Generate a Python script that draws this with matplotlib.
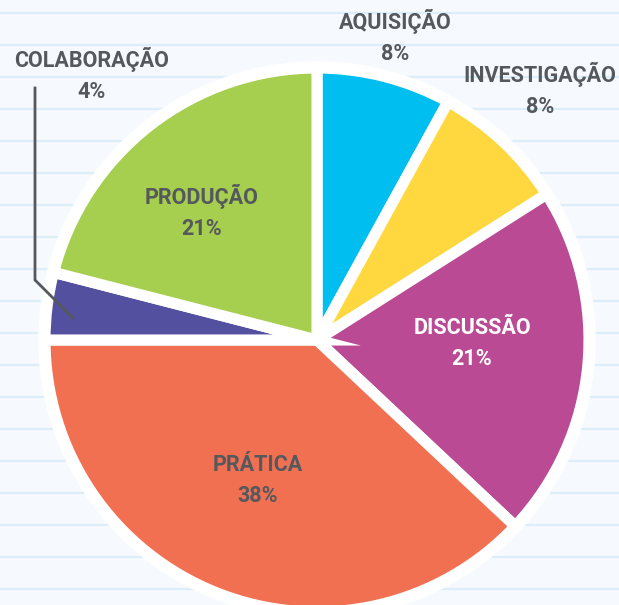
import matplotlib.pyplot as plt
from matplotlib.patches import Circle

# slice names, shares (%) and fills, clockwise from 12 o'clock
labels = ["AQUISIÇÃO", "INVESTIGAÇÃO", "DISCUSSÃO", "PRÁTICA", "COLABORAÇÃO", "PRODUÇÃO"]
shares = [8, 8, 21, 38, 4, 21]
colors = ["#00bef0", "#ffd73f", "#b94a93", "#f27052", "#5450a0", "#a6ce4f"]
label_colors = ["#55585d", "#55585d", "#ffffff", "#55585d", "#55585d", "#55585d"]

W, H = 619, 605
CX, CY, R = 317, H - 340, 272

# (x centre, baseline of the name) in pixels from the top-left
label_pos = [(395, 29), (540, 82), (472, 334), (258, 471), (92, 67), (202, 204)]

plt.rcParams['font.family'] = ['Roboto', 'DejaVu Sans']
fig = plt.figure(figsize=(W / 100, H / 100), dpi=100)
ax = fig.add_axes([0, 0, 1, 1])
fig.patch.set_facecolor('#f6fafe')

# ruled-paper background
for y in range(13, H, 32):
    ax.axhline(H - y, color='#ddeef8', lw=1.6, zorder=0)

ax.add_patch(Circle((CX, CY), R + 6, color='white', zorder=1))

wedges, _ = ax.pie(shares, colors=colors, startangle=90, counterclock=False,
                   center=(CX, CY), radius=R, frame=True,
                   wedgeprops=dict(edgecolor='white', linewidth=8))
for w in wedges:
    w.set_zorder(2)
ax.set_xlim(0, W)
ax.set_ylim(0, H)
ax.set_aspect('equal')
ax.axis('off')

for name, val, c, (x, y) in zip(labels, shares, label_colors, label_pos):
    ax.text(x, H - y, name, ha='center', va='baseline', fontsize=15.5,
            fontweight='bold', color=c, zorder=4)
    ax.text(x, H - y - 31, f"{val}%", ha='center', va='baseline', fontsize=15.5,
            fontweight='bold', color=c, zorder=4)

# leader line for the thin slice
ax.plot([35, 35, 73], [H - 88, H - 280, H - 318], color='#55585d', lw=2,
        solid_joinstyle='miter', zorder=5)

fig.savefig('out.png', dpi=100, facecolor=fig.get_facecolor())
